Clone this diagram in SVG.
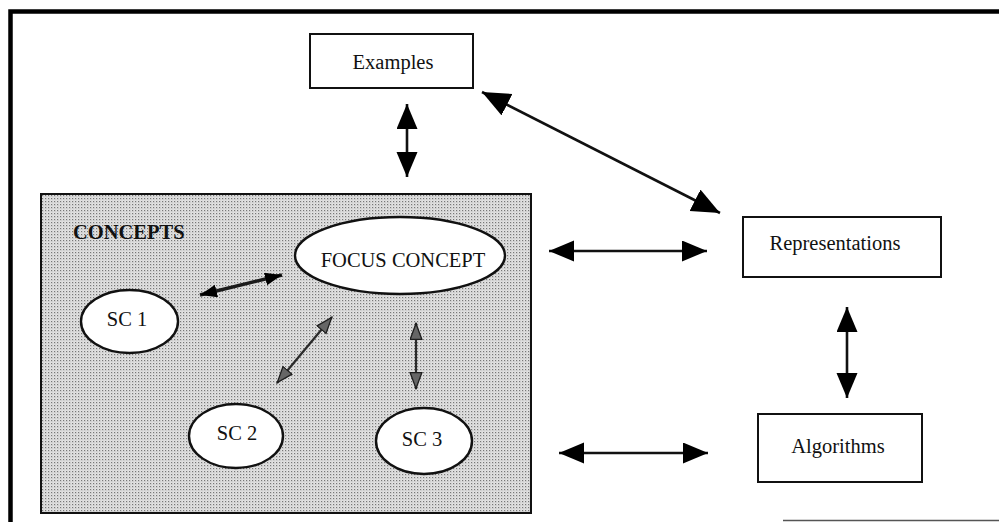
<svg xmlns="http://www.w3.org/2000/svg" width="999" height="522" viewBox="0 0 999 522">
<style>
  text { font-family: "Liberation Serif", "Times New Roman", serif; font-size: 20.5px; fill: #111; text-anchor: middle; }
  .box { fill: #fff; stroke: #111; stroke-width: 2; }
  .ell { fill: #fff; stroke: #111; stroke-width: 2.4; }
  .conn { stroke: #111; stroke-width: 2.6; fill: none; }
  .inner { stroke: #1a1a1a; stroke-width: 3.4; fill: none; }
  .innergray { stroke: #2a2a2a; stroke-width: 2.2; fill: none; }
</style>
<defs>
  <pattern id="stipple" width="3" height="3" patternUnits="userSpaceOnUse">
    <rect width="3" height="3" fill="#e2e2e2"/>
    <rect width="1.2" height="1.2" fill="#777"/>
    <rect x="1.5" y="1.5" width="0.8" height="0.8" fill="#aaa"/>
  </pattern>
  <marker id="big" markerUnits="userSpaceOnUse" markerWidth="26" markerHeight="22" refX="25" refY="10.5" orient="auto-start-reverse">
    <path d="M0,0 L25,10.5 L0,21 z" fill="#000"/>
  </marker>
  <marker id="bigd" markerUnits="userSpaceOnUse" markerWidth="30" markerHeight="26" refX="28" refY="12" orient="auto-start-reverse">
    <path d="M0,0 L28,12 L0,24 z" fill="#000"/>
  </marker>
  <marker id="small" markerUnits="userSpaceOnUse" markerWidth="18" markerHeight="14" refX="17" refY="6.5" orient="auto-start-reverse">
    <path d="M0,0 L17,6.5 L0,13 z" fill="#000"/>
  </marker>
  <marker id="smallg" markerUnits="userSpaceOnUse" markerWidth="18" markerHeight="14" refX="17" refY="6.5" orient="auto-start-reverse">
    <path d="M0.6,0.6 L16.5,6.5 L0.6,12.4 z" fill="#666" stroke="#1e1e1e" stroke-width="1.3"/>
  </marker>
</defs>

<rect width="999" height="522" fill="#fff"/>

<!-- outer frame -->
<g id="frame">
  <path d="M10.5,522 L10.5,11.5 L999,11.5" fill="none" stroke="#000" stroke-width="4.5"/>
  <line x1="783" y1="520.5" x2="999" y2="520.5" stroke="#555" stroke-width="1.5"/>
</g>

<!-- concepts container -->
<g id="concepts">
  <rect x="41" y="194" width="490" height="319" fill="url(#stipple)" stroke="#111" stroke-width="2"/>
  <text x="73" y="239" style="text-anchor:start;font-weight:bold">CONCEPTS</text>
</g>

<g id="examples">
  <rect class="box" x="310" y="34" width="163" height="54"/>
  <text x="393" y="69">Examples</text>
</g>

<g id="representations">
  <rect class="box" x="743" y="217" width="198" height="60"/>
  <text x="835" y="250">Representations</text>
</g>

<g id="algorithms">
  <rect class="box" x="758" y="414" width="164" height="68"/>
  <text x="838" y="453">Algorithms</text>
</g>

<g id="focus-concept">
  <ellipse class="ell" cx="400" cy="255.5" rx="105" ry="38.5"/>
  <text x="403" y="267">FOCUS CONCEPT</text>
</g>

<g id="sc1">
  <ellipse class="ell" cx="129.5" cy="321.5" rx="48.5" ry="31.5"/>
  <text x="127" y="326">SC 1</text>
</g>

<g id="sc2">
  <ellipse class="ell" cx="236" cy="436" rx="47" ry="32"/>
  <text x="237" y="440">SC 2</text>
</g>

<g id="sc3">
  <ellipse class="ell" cx="424" cy="441" rx="48" ry="33"/>
  <text x="422" y="446">SC 3</text>
</g>

<g id="connectors">
  <line class="conn" x1="407" y1="104" x2="407" y2="177" marker-start="url(#big)" marker-end="url(#big)"/>
  <line class="conn" x1="482" y1="92" x2="720" y2="213" marker-start="url(#bigd)" marker-end="url(#bigd)"/>
  <line class="conn" x1="549" y1="251" x2="707" y2="251" marker-start="url(#big)" marker-end="url(#big)"/>
  <line class="conn" x1="847" y1="307" x2="847" y2="398" marker-start="url(#big)" marker-end="url(#big)"/>
  <line class="conn" x1="559" y1="453" x2="708" y2="453" marker-start="url(#big)" marker-end="url(#big)"/>
  <line class="inner" x1="200" y1="295" x2="282" y2="275" marker-start="url(#small)" marker-end="url(#small)"/>
  <line class="innergray" x1="277" y1="383" x2="332" y2="317" marker-start="url(#smallg)" marker-end="url(#smallg)"/>
  <line class="innergray" x1="416" y1="323" x2="416" y2="389" marker-start="url(#smallg)" marker-end="url(#smallg)"/>
</g>
</svg>
